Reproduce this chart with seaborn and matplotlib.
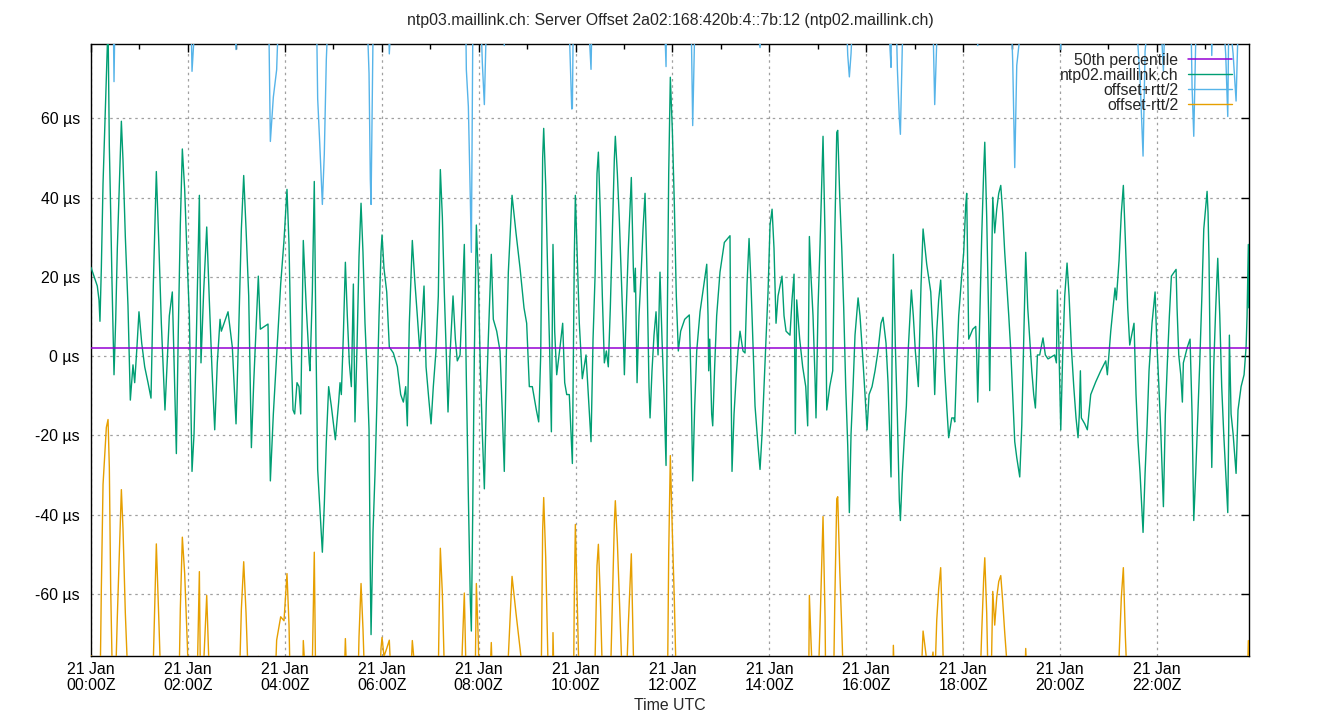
"""
NTP server offset chart - gnuplot style look rebuilt with seaborn
"""

import pandas as pd
import matplotlib
matplotlib.use('Agg')  # Use non-interactive backend
import matplotlib.pyplot as plt
import seaborn as sns
from matplotlib.lines import Line2D
from matplotlib.ticker import MultipleLocator, FuncFormatter

sns.set_style("white")
plt.rcParams['font.family'] = ['Liberation Sans', 'DejaVu Sans']
plt.rcParams['figure.facecolor'] = 'white'

FS = 11.4

# Sample times, minutes after 21 Jan 00:00Z
minutes = [
    0, 4.5, 7.8, 9.9, 11.1, 12.8, 14.9, 16.9, 19, 21.1,
    22.7, 24.4, 26, 28.5, 30.6, 32.6, 35.5, 37.6, 39.6, 42.5,
    45.8, 48.7, 52, 54.1, 56.9, 59.4, 62.8, 66.5, 70.6, 74.3,
    77.2, 80.9, 84.2, 87.1, 91.6, 94.5, 97, 100.7, 103.2, 105.7,
    108.1, 110.6, 113.1, 116, 119.3, 121.8, 125.1, 127.6, 130, 134.2,
    136.2, 139.5, 143.3, 146.5, 149.8, 153.2, 156.4, 159.8, 161.4, 169.7,
    175, 179.6, 182.9, 186.2, 189.1, 192, 195.3, 198.6, 201.5, 207.2,
    209.7, 219.2, 222.1, 225.8, 229.9, 234.9, 239, 242.7, 245.2, 247.7,
    250.2, 252.2, 255.1, 257.6, 259.7, 262.9, 266.6, 270.3, 271.2, 274.1,
    276.5, 278.6, 280.7, 283.2, 286.5, 288.9, 291.4, 294.3, 297.6, 302.6,
    306.7, 308.4, 310, 312.5, 315, 317.4, 319.9, 322.4, 324.9, 326.9,
    329.4, 331.9, 334.4, 336.8, 339.3, 341.8, 344.3, 345.9, 346.8, 349.2,
    351.7, 354.2, 356.7, 359.1, 360.4, 362.8, 366.2, 369.4, 374.4, 379.4,
    383.5, 386.8, 389.7, 391.7, 394.2, 397.9, 400.9, 404.1, 407.1, 410.3,
    412.4, 414.9, 418.2, 421.1, 423.9, 427.2, 430.1, 431.3, 432.6, 435.1,
    437.5, 440, 442.1, 444.6, 447.1, 448.3, 451.2, 453.6, 457, 459.8,
    462.3, 464.8, 467.3, 469.7, 471, 472.7, 474.7, 477.2, 479.6, 482.1,
    484.6, 487.1, 489.5, 492, 495.7, 498.2, 502.4, 506.5, 509.4, 511.8,
    514.3, 516.8, 521.4, 526.3, 531.3, 536.2, 539.5, 542.8, 546.5, 551.5,
    554.4, 556.9, 559.3, 560.6, 563.1, 565.6, 568, 570.1, 572.1, 574.2,
    576.7, 580.8, 584.1, 586.6, 589.1, 592.3, 595.3, 596.1, 598.5, 599.8,
    602.3, 604.7, 608.4, 613, 616.7, 619.2, 621.7, 624.2, 626.6, 628.3,
    630.7, 633.2, 635.7, 638.2, 640.6, 643.1, 645.6, 648.1, 649.3, 651.8,
    654.3, 656.7, 659.2, 660.5, 662.9, 665.4, 669.1, 671.6, 672.8, 674.1,
    676.2, 678.6, 681.1, 683.6, 686.1, 688.6, 691, 692.3, 694.7, 697.2,
    699.7, 702.2, 704.6, 707.1, 709.6, 712.1, 713.7, 715.4, 717.4, 719.9,
    722.4, 724.8, 727.3, 730.2, 735.2, 740.9, 743.4, 745.1, 747.6, 750.1,
    754.2, 759.1, 762.5, 764.1, 764.9, 766.2, 768.6, 769.9, 772.3, 774.8,
    778.9, 784.3, 791.3, 792.2, 793.8, 796.3, 798.8, 801.2, 803.7, 807.4,
    809.9, 812.4, 814.9, 817.3, 822.3, 826, 828.5, 831, 833.4, 835.9,
    838.4, 840.9, 843.4, 845.8, 848.3, 850.8, 855.7, 858.2, 860.7, 865.6,
    868.1, 870.6, 872.2, 873.9, 877.6, 881.3, 885.1, 887.5, 889.6, 891.6,
    894.1, 896.6, 897.8, 900.3, 902.8, 905.3, 906.5, 909, 911.1, 914.8,
    918.5, 921, 923.5, 924.7, 927.2, 929.7, 932.1, 934.6, 937.1, 939.1,
    941.2, 943.7, 946.1, 949.9, 952.3, 956.1, 958.5, 961, 963.5, 967.2,
    970.9, 974.6, 978.3, 980.8, 984.5, 987, 989.5, 990.7, 992, 993.6,
    996.1, 998.6, 1001, 1002.3, 1004.7, 1007.2, 1009.7, 1012.2, 1015.9, 1018.3,
    1020.8, 1024.5, 1027.9, 1030.4, 1034.9, 1039.9, 1042.7, 1044.8, 1047.3, 1049.7,
    1052.2, 1054.7, 1057.2, 1059.7, 1062.1, 1065.9, 1068.3, 1069.6, 1072.1, 1074.5,
    1078.2, 1080.7, 1083.2, 1084.4, 1085.7, 1086.9, 1091.9, 1095.6, 1096.8, 1098.1,
    1100.6, 1103, 1105.5, 1106.8, 1109.2, 1111.7, 1112.9, 1114.2, 1116.7, 1119.1,
    1121.6, 1124.1, 1126.6, 1129, 1131.5, 1134, 1136.5, 1139, 1141.4, 1143.9,
    1146.4, 1150.1, 1152.6, 1155.1, 1157.5, 1160, 1162.5, 1165, 1167.4, 1169.5,
    1172, 1174.8, 1178.9, 1181.8, 1185.1, 1189.3, 1193.4, 1195.5, 1196.7, 1198.4,
    1200.9, 1203.3, 1205.8, 1208.7, 1211.2, 1214, 1217, 1219.8, 1222.3, 1223.9,
    1225.2, 1226.4, 1230.6, 1233.8, 1238, 1244.2, 1250.4, 1256.6, 1258.6, 1262.8,
    1268.1, 1269.7, 1273.1, 1275.9, 1278.4, 1280.9, 1283.8, 1286.3, 1291.6, 1294.1,
    1296.6, 1299.1, 1301.6, 1302.8, 1305.3, 1307.8, 1310.2, 1313.9, 1317.7, 1319.7,
    1322.2, 1324.7, 1328, 1330.4, 1332.9, 1335.4, 1337.9, 1343.7, 1344.9, 1347,
    1349.5, 1351.5, 1352.7, 1357.7, 1361, 1363.5, 1365.6, 1368, 1370.5, 1373,
    1375.5, 1378, 1382.1, 1383.3, 1384.5, 1386.2, 1387.9, 1390.3, 1392.8, 1395.3,
    1397.8, 1400.2, 1402.7, 1405.2, 1407.7, 1408.9, 1409.7, 1411.8, 1414.3, 1418,
    1420.4, 1424.2, 1427.9, 1430.4, 1431.6, 1433.2, 1433.7,
]

# Measured offset of ntp02.maillink.ch, microseconds
offset_us = [
    22.4, 19.7, 17.7, 14.2, 8.8, 22.2, 43.6, 56.5, 70, 84,
    53, 36.1, 18.7, -4.7, 9.3, 27.2, 45.6, 59.3, 49.6, 30.2,
    12.7, -11.1, -2.2, -6.7, 2.3, 11.2, 3.3, -2.7, -6.7, -10.6,
    18.2, 46.6, 27.2, 8.3, -13.6, -0.7, 10.2, 16.2, -4.7, -24.6,
    6.3, 33.1, 52.3, 42.1, 23.2, 10.2, -29.1, -19.6, 0.3, 40.6,
    -1.7, 16.2, 32.6, 14.2, -3.2, -18.6, -1.7, 9.3, 6.3, 11.2,
    2.3, -17.1, 6.3, 32.1, 45.6, 32.1, 15.2, -23.1, -6.7, 20.2,
    6.8, 8.1, -31.5, -14.6, 0.3, 18.2, 29.2, 42.1, 28.2, 2.3,
    -13.6, -14.6, -6.7, -7.7, -14.6, 29.2, 12.2, -1.7, -3.7, 16.2,
    44.1, 3.3, -28.6, -37.5, -49.5, -37.5, -21.6, -7.7, -12.6, -21.1,
    -11.6, -6.7, -9.7, 5.3, 23.7, 10.2, -1.7, -7.7, 18.2, -16.6,
    2.3, 25.2, 38.6, 26.2, 8.3, -3.7, -18.6, -55.4, -70.3, -44.5,
    -29.6, -10.6, 10.2, 26.2, 30.6, 22.2, 16.2, 2.3, 0.8, -2.7,
    -9.7, -11.6, -7.7, -17.6, 8.3, 29.2, 19.2, 10.2, 1.3, 10.2,
    17.7, -2.7, -10.6, -17.1, -7.7, 1.3, 15.2, 32.1, 47.1, 35.1,
    16.2, 0.3, -14.1, 0.3, 10.2, 15.2, 4.3, -1.2, 0.3, 14.2,
    28.2, -5.7, -35.5, -61.4, -69.4, -39.5, 0.3, 33.1, 20.2, -2.7,
    -19.6, -33.5, -11.6, 4.3, 25.7, 9.3, 6.3, 1.3, -14.6, -29.1,
    0.3, 21.2, 40.6, 31.1, 22.2, 12.2, 8.3, -7.7, -7.7, -13.6,
    -16.6, 0.3, 50, 57.5, 43.1, 20.2, 1.3, -19.1, 28.2, 6.3,
    -4.7, 2.3, 8.3, -6.7, -9.7, -9.7, -23.6, -27.1, 25.2, 40.6,
    24.2, 8.3, -5.7, 0.3, -12.6, -21.6, 4.3, 20.2, 46.1, 51.5,
    36.1, 15.2, -1.7, 1.3, -2.7, 12.2, 31.1, 50, 55.5, 46.1,
    34.1, 20.2, 5.3, -4.7, 12.2, 27.2, 45.1, 22.2, 16.2, 22.2,
    -6.7, 10.2, 20.2, 32.1, 41.1, 20.2, -7.7, -15.6, -3.7, 5.3,
    11.2, 0.3, 21.2, 4.3, -9.7, -27.6, 10.2, 46.1, 70.4, 57,
    38.1, 15.2, 1.3, 6.3, 9.3, 10.4, -9.7, -31.5, -12.6, 1.3,
    11.2, 18.2, 23.2, 10.2, -3.7, 4.3, -14.6, -17.6, -2.7, 10.2,
    21.2, 28.7, 30.4, 1.3, -29.1, -14.6, -5.7, 1.3, 6.3, 1.3,
    0.8, 18.2, 29.7, 18.2, -12.6, -22.6, -28.6, -19.6, -7.7, 4.3,
    16.2, 33.1, 37.1, 27.2, 8.3, 15.2, 20.2, 10.2, 6.3, 5.3,
    14.2, 20.7, -19.6, 14.2, 4.3, -2.7, -7.7, -17.6, 30.2, 20.2,
    10.2, -5.7, -15.6, 12.2, 28.2, 47.1, 55.5, 30.2, -13.6, -7.7,
    -3.7, 30.2, 56.5, 57, 40.1, 27.2, 12.2, -7.7, -22.6, -39.5,
    -19.6, -7.7, 5.3, 14.7, 10.2, -1.7, -9.7, -18.6, -9.7, -7.7,
    -3.7, 1.3, 8.3, 9.8, 3.3, -6.7, -22.6, -30.5, 0.3, 25.7,
    2.3, -15.6, -36.5, -41.5, -29.6, -20.6, -12.6, 2.3, 16.7, 10.2,
    1.3, -7.7, 18.2, 32.1, 23.2, 16.2, 4.3, -9.7, 6.3, 14.2,
    19.2, 8.3, -3.7, -12.6, -20.6, -15.6, -15.6, -16.6, -1.7, 10.2,
    20.2, 26.2, 38.1, 41.1, 22.2, 4.3, 6.8, 7.5, 0.3, -11.6,
    10.2, 30.2, 47.1, 54, 35.1, 8.3, -8.7, 10.2, 40.1, 31.1,
    37.1, 41.1, 43.1, 36.1, 26.2, 18.2, 10.2, 1.3, -9.7, -21.6,
    -25.6, -30.5, -17.6, 5.3, 26.2, 12.2, 4.3, -3.7, -9.7, -13.1,
    0.3, 0.3, 4.6, 0.3, -0.7, -0.2, 0.3, -1.7, 16.7, 4.3,
    -18.6, 0.3, 15.2, 23.5, 15.2, 2.3, -7.7, -15.6, -20.6, -14.6,
    -3.7, -15.6, -17.1, -18.6, -9.7, -6.5, -3.7, -1.2, -4.7, 6.3,
    17.2, 14.2, 24.2, 36.1, 43.1, 29.2, 12.2, 2.8, 8.3, -9.7,
    -21.6, -29.6, -39.5, -44.5, -29.6, -17.6, -3.7, 8.3, 16.2, 4.3,
    -6.7, -18.6, -38, -14.6, -1.7, 10.2, 20.2, 21.9, 12.2, 0.3,
    -4.7, -11.6, -1.7, 2.3, 4.3, -14.6, -41.5, -29.6, -15.6, -1.7,
    14.2, 32.1, 41.6, 36.1, 24.2, -5.7, -28.1, -2.7, 12.2, 24.7,
    10.2, -7.7, -19.6, -29.6, -39.5, -17.6, 5.3, -14.6, -19.6, -29.6,
    -13.6, -7.7, -4.7, 2.3, 10.2, 28.2, 12.2,
]

# Half round trip time per sample, microseconds
rtt_half_us = [
    98, 98, 98, 98, 95, 81, 76, 82, 88, 100,
    81, 95, 95, 74, 90, 93, 93, 93, 93, 95,
    95, 95, 95, 95, 95, 95, 95, 95, 95, 95,
    95, 94, 95, 95, 96, 95, 95, 95, 100, 105,
    100, 97, 98, 97, 96, 98, 101, 100, 97, 95,
    95, 94, 93, 95, 96, 99, 97, 95, 95, 95,
    95, 94.5, 95, 96, 97.5, 97, 100, 103, 98, 96,
    95, 92, 85.7, 80, 72, 84, 96, 97, 96, 95,
    95, 95, 95, 95, 96, 101, 97, 95, 95, 94,
    93.6, 93, 93.6, 91.5, 87.8, 88.5, 96.5, 97, 98, 101,
    98, 96, 96, 95, 95, 95, 95, 95, 96, 97,
    96, 96, 96, 95, 93, 90, 90, 100, 108.6, 125,
    112, 100, 98, 100, 101.6, 98, 90, 74, 95, 95,
    96, 96, 96, 98, 98, 101, 98, 95, 95, 95,
    95, 95, 96, 98, 96, 95, 95, 95, 95.6, 95,
    95, 95, 95, 95, 95, 95, 95, 95, 92, 88,
    88, 78, 98.5, 101.4, 95.6, 118, 100, 90.5, 92, 93,
    93.6, 97, 95, 96, 98, 98, 98, 100, 104, 107.5,
    100, 97, 96.2, 96, 96, 95, 95, 95, 95, 96,
    97, 95, 94, 93.2, 94, 95, 97, 100, 98, 96,
    95, 95, 95, 95, 95, 92, 86, 89.6, 86, 83.1,
    88, 92, 95, 95, 95, 94, 95, 97, 99, 99,
    97, 95, 95, 95, 95, 95, 93, 92, 92, 93,
    95, 95, 95, 95, 95, 95, 95, 97, 100, 105,
    108, 110, 115, 118, 118, 112, 105, 100, 97, 95,
    95, 95, 97, 98, 99, 100.7, 98, 96, 95.5, 101.5,
    100, 98, 97, 96, 95, 95, 92, 89.7, 95, 95,
    95, 95, 100, 100, 100, 100, 100, 100, 100, 100,
    100, 106, 108, 108, 110, 105, 100, 100, 100, 100,
    100, 105, 107, 105, 103, 104, 106.5, 104, 104, 104,
    106, 110, 115, 110, 105, 100, 100, 100, 100, 100,
    100, 100, 100, 100, 98, 98, 98, 98, 90.6, 92,
    95, 95, 96, 96, 96, 96, 96, 96, 96, 95,
    94, 93, 92.5, 92.5, 94, 96, 97, 98, 98.6, 110,
    96, 95, 95, 95, 95, 95, 97, 99, 97, 95,
    95, 95, 95, 95, 96, 98, 100, 103.4, 100, 98.7,
    92, 88, 96.5, 97.5, 108, 104, 100, 98, 98, 98,
    98, 98, 100, 101.5, 100, 95, 79, 73.2, 73, 73,
    72.6, 80, 90, 96, 101, 98, 98, 98, 98, 100,
    105, 110, 115, 118, 112, 100, 95, 92, 90, 90,
    95, 100, 103, 104.9, 100, 98, 98, 98, 99.5, 99,
    98, 98, 98.5, 98, 96, 95, 92, 88, 84, 69.2,
    99, 111, 100, 97, 100, 98, 97, 97, 97, 97,
    96, 96, 96, 96, 96, 96, 96, 96, 96, 97,
    96, 97, 96, 100, 98, 97, 97, 98, 100, 98,
    96, 98, 98, 100, 98, 97, 96, 96, 96, 96,
    96, 96, 100, 97, 96.5, 100, 98, 96, 96, 98,
    99.6, 99.6, 96.5, 95, 106.6, 100, 98, 97, 97, 100,
    104, 104, 110, 104, 100, 98, 100, 100, 100, 98,
    96, 96, 95, 95, 95, 82.6, 97, 109, 100, 100,
    105, 112, 119, 115, 110, 106, 104, 100, 100, 102,
    102, 102, 104, 105.6, 100, 100, 98, 96, 96, 94,
    96, 96, 96, 96, 96, 100, 98,
]

median_us = 2.1

assert len(minutes) == len(offset_us) == len(rtt_half_us)

df = pd.DataFrame({'minute': minutes, 'offset': offset_us, 'rtt_half': rtt_half_us})
df['upper'] = df['offset'] + df['rtt_half']
df['lower'] = df['offset'] - df['rtt_half']

C_MED = '#9400d3'
C_OFF = '#009e73'
C_UP = '#56b4e9'
C_LOW = '#e69f00'

fig = plt.figure(figsize=(13.4, 7.2), dpi=100)
ax = fig.add_axes([91 / 1340, 64 / 720, 1158 / 1340, 612 / 720])

sns.lineplot(data=df, x='minute', y='offset', color=C_OFF, lw=1.0,
             estimator=None, ax=ax, zorder=3)
sns.lineplot(data=df, x='minute', y='upper', color=C_UP, lw=1.0,
             estimator=None, ax=ax, zorder=3)
sns.lineplot(data=df, x='minute', y='lower', color=C_LOW, lw=1.0,
             estimator=None, ax=ax, zorder=3)
ax.axhline(median_us, color=C_MED, lw=1.1, zorder=4)

ax.set_xlim(0, 1434)
ax.set_ylim(-75.7, 78.8)

# axes, ticks and grid in gnuplot manner
ax.xaxis.set_major_locator(MultipleLocator(120))
ax.xaxis.set_minor_locator(MultipleLocator(60))
ax.yaxis.set_major_locator(MultipleLocator(20))
ax.xaxis.set_major_formatter(FuncFormatter(lambda v, p: f"21 Jan\n{int(v // 60):02d}:00Z"))
ax.yaxis.set_major_formatter(FuncFormatter(lambda v, p: f"{v:.0f} µs"))
ax.tick_params(which='both', direction='in', top=True, right=True,
               labelsize=FS, colors='black')
ax.tick_params(which='major', length=6, width=1)
ax.tick_params(which='minor', length=3.5, width=1)
ax.tick_params(axis='y', pad=8)
ax.tick_params(axis='x', pad=4)
for lbl in ax.get_xticklabels():
    lbl.set_linespacing(1.1)
ax.grid(True, which='major', color='#a0a0a0', linestyle=(0, (2, 3)), lw=0.9)
for s in ax.spines.values():
    s.set_color('black')
    s.set_linewidth(1)
ax.set_xlabel('')
ax.set_ylabel('')

fig.text(0.5, 1 - 21 / 720, 'ntp03.maillink.ch: Server Offset 2a02:168:420b:4::7b:12 (ntp02.maillink.ch)',
         ha='center', va='center', fontsize=FS)
fig.text(670 / 1340, 1 - 706 / 720, 'Time UTC', ha='center', va='center', fontsize=FS)

handles = [Line2D([], [], color=C_MED, lw=1.1),
           Line2D([], [], color=C_OFF, lw=1.0),
           Line2D([], [], color=C_UP, lw=1.0),
           Line2D([], [], color=C_LOW, lw=1.0)]
labels = ['50th percentile', 'ntp02.maillink.ch', 'offset+rtt/2', 'offset-rtt/2']
ax.legend(handles, labels, loc='upper right', frameon=False, markerfirst=False,
          fontsize=FS, handlelength=2.8, handletextpad=0.6, labelspacing=0.0,
          borderpad=0, borderaxespad=0,
          bbox_to_anchor=((1232 - 91) / 1158, (656 - 53) / 612))

fig.savefig('out.png', dpi=100)
